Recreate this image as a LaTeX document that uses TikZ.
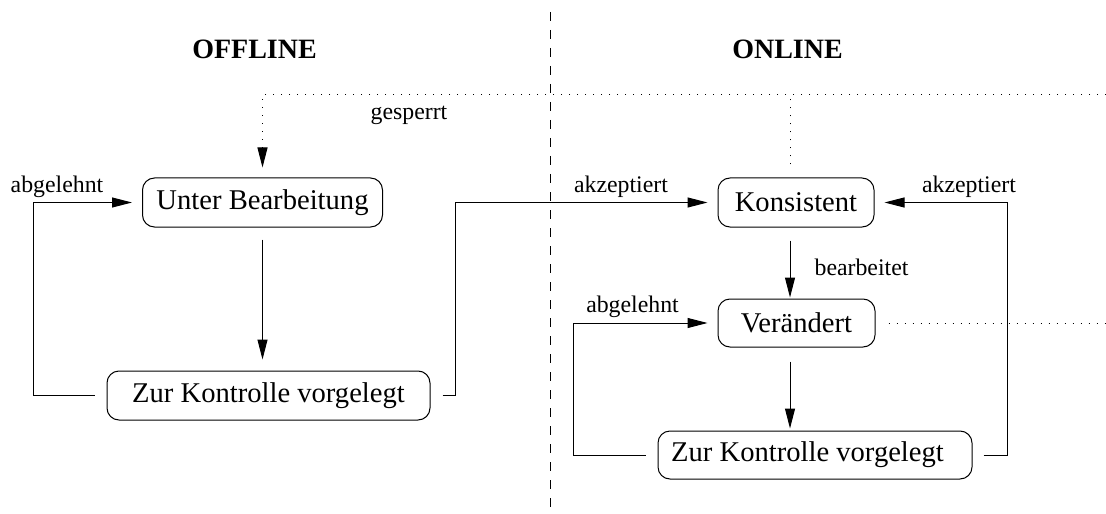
\documentclass[tikz,border=0pt]{standalone}
\usepackage{fontspec}
\setmainfont{Liberation Serif}
\usetikzlibrary{arrows.meta,calc}

\tikzset{
  state/.style={draw, line width=0.5pt, rounded corners=6pt, inner sep=0pt,
                minimum height=24.5pt, font=\fontsize{14.3}{16}\selectfont},
  heading/.style={anchor=base, inner sep=0pt, font=\fontsize{14}{16}\selectfont\bfseries},
  lbl/.style={anchor=base, inner sep=0pt, font=\fontsize{11.9}{14}\selectfont},
  flow/.style={line width=0.5pt, -{Triangle[length=10pt,width=5pt]}},
  dotline/.style={line width=0.5pt, dash pattern=on 0.5pt off 3.5pt},
  divider/.style={line width=0.5pt, dash pattern=on 4.5pt off 4.5pt},
}

\begin{document}
\begin{tikzpicture}[x=0.5pt, y=-0.5pt]
  \useasboundingbox (0,0) rectangle (1106,513);

  % offline / online separator
  \coordinate (dt) at (550,12);
  \coordinate (db) at (550,513);
  \draw[divider] (dt) -- (db);

  % headings
  \node[heading] (hoff) at (254.5,59) {OFFLINE};
  \node[heading] (hon)  at (787.5,59) {ONLINE};

  % states
  \node[state, minimum width=120pt] (ub) at (262.5,202.5) {Unter Bearbeitung};
  \node[state, minimum width=161.5pt] (zkl) at (268.5,395.5) {Zur Kontrolle vorgelegt};
  \node[state, minimum width=78pt] (ko) at (796,202.5) {Konsistent};
  \node[state, minimum width=78.5pt, minimum height=24pt] (ve) at (796.5,323) {Verändert};
  \node[state, minimum width=157pt, minimum height=24pt] (zkr) at (815,455)
       {Zur Kontrolle vorgelegt\hspace*{7.5pt}};

  % offline transitions
  \draw[flow, shorten <=6pt, shorten >=5.5pt] (ub.south) -- (ub.south |- zkl.north);
  \draw[flow, shorten <=6pt, shorten >=5pt] (zkl.west) -- ++(-73,0) |- (ub.west);
  \draw[flow, shorten <=6pt, shorten >=5pt] (zkl.east) -- ++(25,0) |- (ko.west);

  % online transitions
  \coordinate (kb) at ($(ko.south)+(-6,0)$);
  \coordinate (vt) at ($(ve.north)+(-6.5,0)$);
  \coordinate (vb) at ($(ve.south)+(-6.5,0)$);
  \coordinate (zt) at ($(zkr.north)+(-25,0)$);
  \draw[flow, shorten <=6.5pt, shorten >=0.5pt] (kb) -- (vt);
  \draw[flow, shorten <=7pt, shorten >=1pt] (vb) -- (zt);
  \draw[flow, shorten <=6pt, shorten >=5pt] (zkr.west) -- ++(-84,0) |- (ve.west);
  \draw[flow, shorten <=5.5pt, shorten >=5pt] (zkr.east) -- ++(35,0) |- (ko.east);

  % lock transitions (dotted)
  \coordinate (tr) at (1106,95);
  \coordinate (rr) at (1106,323);
  \coordinate (kt) at ($(ko.north)+(-6,0)$);
  \draw[dotline, -{Triangle[length=10pt,width=5pt]}, shorten >=5pt] (tr) -| (ub.north);
  \draw[dotline, shorten <=6.5pt] (kt) -- (kt |- tr);
  \draw[dotline, shorten <=6.5pt] (ve.east) -- (rr);

  % labels
  \node[lbl] (lg)  at (409,120)   {gesperrt};
  \node[lbl] (la1) at (57,192)    {abgelehnt};
  \node[lbl] (lk1) at (621,192)   {akzeptiert};
  \node[lbl] (lk2) at (969,192)   {akzeptiert};
  \node[lbl] (lb)  at (861.5,275) {bearbeitet};
  \node[lbl] (la2) at (632.5,312) {abgelehnt};
\end{tikzpicture}
\end{document}
